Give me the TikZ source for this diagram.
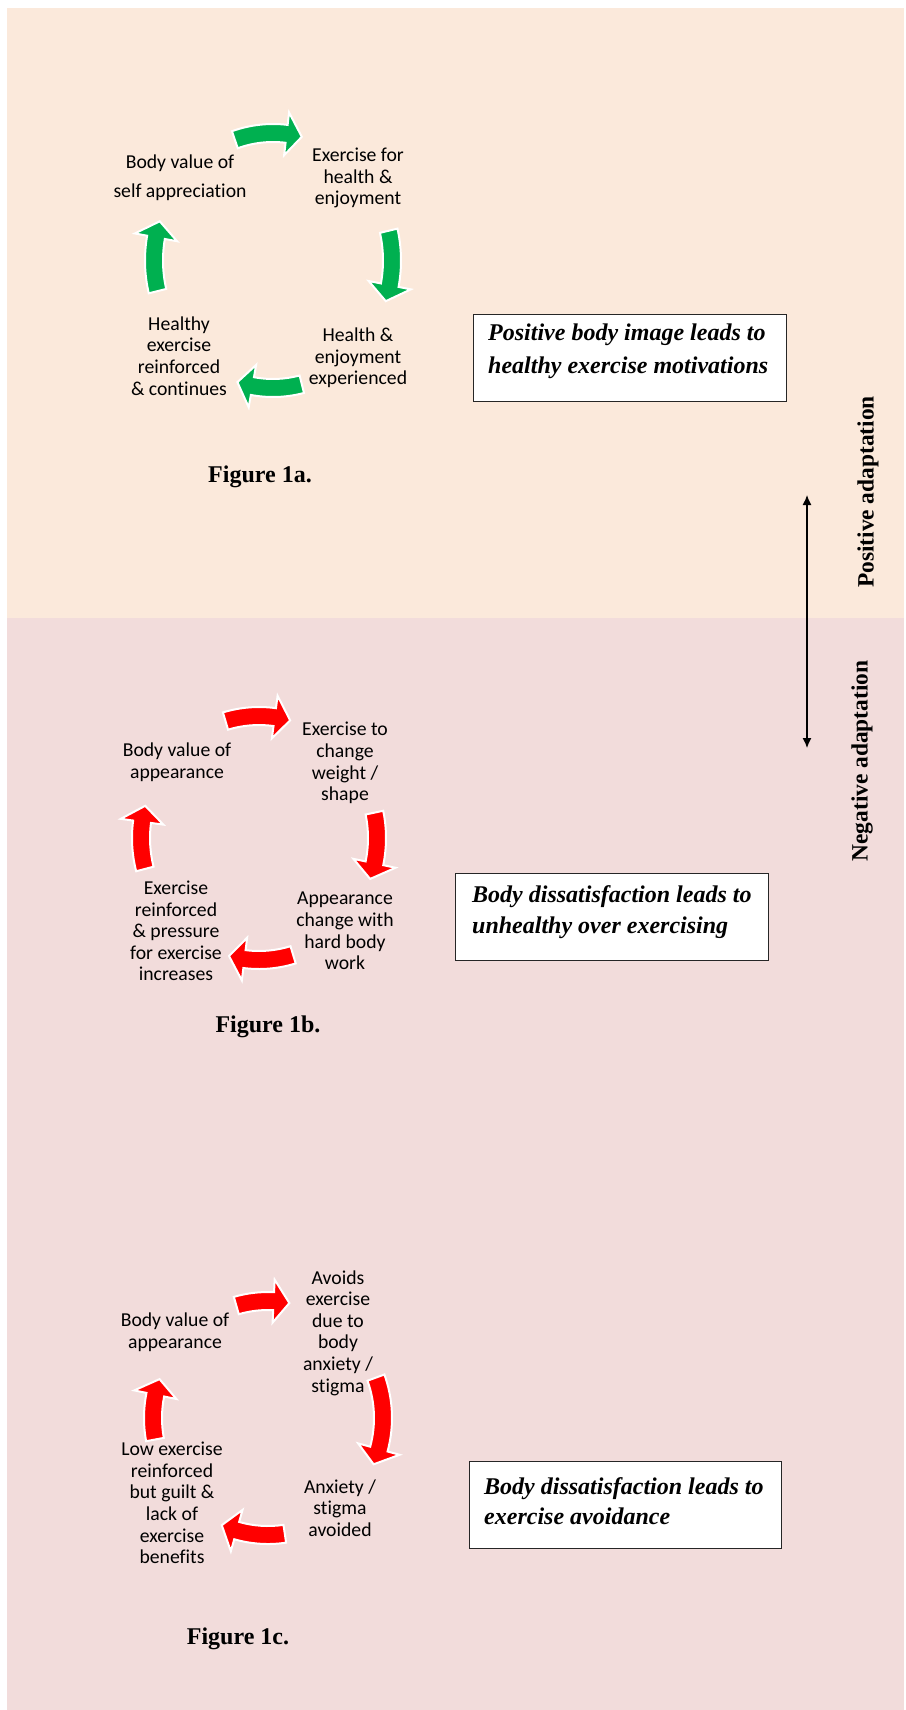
\documentclass[tikz,border=0pt]{standalone}
\usepackage{fontspec}
\setmainfont{Liberation Serif}
\newfontfamily\calibri[Ligatures=NoCommon]{Carlito}
\usetikzlibrary{arrows.meta,calc}
\definecolor{peachbg}{HTML}{FBE9DB}
\definecolor{rosebg}{HTML}{F2DCDB}
\definecolor{arrgreen}{HTML}{00B050}
\definecolor{arrred}{HTML}{FF0000}
% #1 colour, #2 cx, #3 cy (pixels, downwards), #4 rx, #5 ry, #6 tail angle, #7 tip angle
\newcommand\cycarrow[7]{%
  \pgfmathsetmacro\hb{#7+16/(0.5*(#4+#5))*57.2958}%
  \pgfmathsetmacro\rxo{#4+9}\pgfmathsetmacro\ryo{#5+9}%
  \pgfmathsetmacro\rxi{#4-9}\pgfmathsetmacro\ryi{#5-9}%
  \pgfmathsetmacro\rxh{#4+21.5}\pgfmathsetmacro\ryh{#5+21.5}%
  \pgfmathsetmacro\rxl{#4-21.5}\pgfmathsetmacro\ryl{#5-21.5}%
  \filldraw[fill=#1, draw=white, line width=2pt, line join=miter, shift={(#2,-#3)}]
    (#6:\rxo\space and \ryo) arc[start angle=#6, end angle=\hb, x radius=\rxo, y radius=\ryo]
    -- (\hb:\rxh\space and \ryh) -- (#7:#4 and #5) -- (\hb:\rxl\space and \ryl)
    -- (\hb:\rxi\space and \ryi) arc[start angle=\hb, end angle=#6, x radius=\rxi, y radius=\ryi]
    -- cycle;%
}
\tikzset{
  cyctext/.style={font=\calibri\fontsize{19.7}{21.6}\selectfont, align=center, inner sep=0pt},
  figlabel/.style={font=\bfseries\fontsize{24}{28}\selectfont, inner sep=0pt},
  msgframe/.style={draw=black!85, line width=1.2pt, fill=white, inner sep=0pt, anchor=north west},
  msgtext/.style={font=\bfseries\itshape\fontsize{24}{#1}\selectfont, align=left, inner sep=0pt, anchor=west},
  sidelabel/.style={font=\bfseries\fontsize{23.4}{28}\selectfont, rotate=90, inner sep=0pt},
}
\begin{document}
\begin{tikzpicture}[x=1pt,y=1pt]
\useasboundingbox (0,0) rectangle (905,-1710);
\fill[peachbg] (7,-8) rectangle (904,-618);
\fill[rosebg] (7,-618) rectangle (904,-1710);

% ---------- Figure 1a ----------
\cycarrow{arrgreen}{273}{260.5}{119}{127.5}{108.7}{76}
\cycarrow{arrgreen}{273}{260.5}{119}{127.5}{13.5}{-18.6}
\cycarrow{arrgreen}{273}{260.5}{119}{127.5}{-76}{-107.4}
\cycarrow{arrgreen}{273}{260.5}{119}{127.5}{193.9}{162.1}
\node[cyctext] (a1) at (180,-178) {Body value of\\[7.5pt]self appreciation};
\node[cyctext] (a2) at (358,-178) {Exercise for\\health \&\\enjoyment};
\node[cyctext] (a3) at (358,-358) {Health \&\\enjoyment\\experienced};
\node[cyctext] (a4) at (179,-356) {Healthy\\exercise\\reinforced\\\& continues};
\node[figlabel] (fa) at (260,-477) {Figure 1a.};
\node[msgframe, minimum width=313, minimum height=87] (ba) at (473,-314) {};
\node[msgtext=33] (ta) at (488,-351) {Positive body image leads to\\healthy exercise motivations};

% ---------- Figure 1b ----------
\cycarrow{arrred}{259}{838}{118}{122}{106.5}{74.7}
\cycarrow{arrred}{259}{838}{118}{122}{12}{-19.6}
\cycarrow{arrred}{259}{838}{118}{122}{-73.2}{-104.7}
\cycarrow{arrred}{259}{838}{118}{122}{194.7}{164.7}
\node[cyctext] (b1) at (177,-762) {Body value of\\appearance};
\node[cyctext] (b2) at (345,-763) {Exercise to\\change\\weight /\\shape};
\node[cyctext] (b3) at (345,-931) {Appearance\\change with\\hard body\\work};
\node[cyctext] (b4) at (176,-931) {Exercise\\reinforced\\\& pressure\\for exercise\\increases};
\node[figlabel] (fb) at (268,-1027) {Figure 1b.};
\node[msgframe, minimum width=313, minimum height=87] (bb) at (455,-873) {};
\node[msgtext=31] (tb) at (472,-912) {Body dissatisfaction leads to\\unhealthy over exercising};

% ---------- Figure 1c ----------
\cycarrow{arrred}{268}{1418}{115}{117}{106}{79.3}
\cycarrow{arrred}{268}{1418}{115}{117}{20.2}{-23.3}
\cycarrow{arrred}{268}{1418}{115}{117}{-81.6}{-113.7}
\cycarrow{arrred}{268}{1418}{115}{117}{190.6}{160.6}
\node[cyctext] (c1) at (175,-1332.5) {Body value of\\appearance};
\node[cyctext] (c2) at (338,-1333) {Avoids\\exercise\\due to\\body\\anxiety /\\stigma};
\node[cyctext] (c3) at (340,-1508) {Anxiety /\\stigma\\avoided};
\node[cyctext] (c4) at (172,-1503) {Low exercise\\reinforced\\but guilt \&\\lack of\\exercise\\benefits};
\node[figlabel] (fc) at (238,-1639) {Figure 1c.};
\node[msgframe, minimum width=312, minimum height=87] (bc) at (469,-1461) {};
\node[msgtext=30] (tc) at (484,-1501) {Body dissatisfaction leads to\\exercise avoidance};

% ---------- side ----------
\coordinate (pa) at (807,-495);
\coordinate (na) at (807,-748);
\draw[{Latex[length=10pt,width=9pt]}-{Latex[length=10pt,width=9pt]}, line width=1.3pt] (pa) -- (na);
\node[sidelabel] (pl) at (868,-492) {Positive adaptation};
\node[sidelabel] (nl) at (862,-761) {Negative adaptation};
\end{tikzpicture}
\end{document}
